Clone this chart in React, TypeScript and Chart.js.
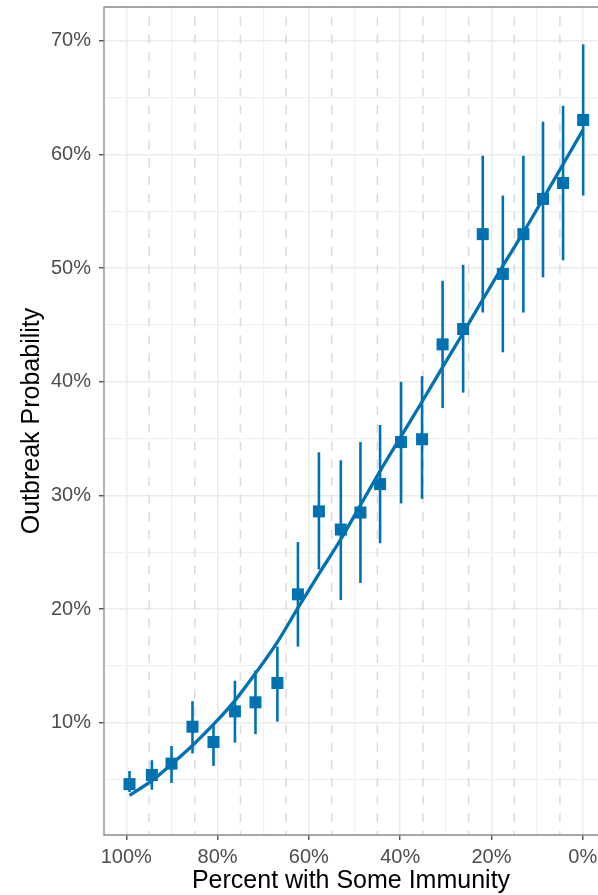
import React, { useEffect, useRef } from 'react';
import { Chart, registerables } from 'chart.js';

Chart.register(...registerables);

// Percent of the population with some immunity (x) for each simulated scenario
const immunityPct = [99.3, 94.4, 90.1, 85.5, 80.9, 76.2, 71.7, 66.9, 62.4, 57.8, 53.0, 48.7, 44.4, 39.8, 35.2, 30.7, 26.2, 21.9, 17.5, 13.0, 8.7, 4.3, -0.1];
// Simulated outbreak probability (%)
const outbreakProb = [4.6, 5.4, 6.4, 9.65, 8.3, 11.0, 11.8, 13.5, 21.3, 28.6, 27.0, 28.5, 31.0, 34.7, 34.95, 43.3, 44.65, 53.0, 49.5, 53.0, 56.1, 57.5, 63.05];
// Interval bounds (%)
const lowerCI = [3.9, 4.1, 4.7, 7.3, 6.2, 8.25, 9.0, 10.1, 16.7, 23.5, 20.8, 22.3, 25.8, 29.3, 29.7, 37.7, 39.05, 46.1, 42.6, 46.1, 49.2, 50.7, 56.4];
const upperCI = [5.75, 6.7, 7.95, 11.9, 9.8, 13.7, 14.6, 16.7, 25.9, 33.8, 33.1, 34.7, 36.2, 40.0, 40.5, 48.9, 50.3, 59.9, 56.4, 59.9, 62.9, 64.3, 69.7];
// Fitted curve (%)
const fittedProb = [3.6, 4.9, 6.35, 8.0, 9.85, 11.95, 14.35, 17.1, 20.1, 23.1, 26.15, 29.15, 32.15, 35.2, 38.25, 41.3, 44.3, 47.25, 50.2, 53.15, 56.1, 59.15, 62.2];

// Axis ticks
const xGridTicks = [0, 10, 20, 30, 40, 50, 60, 70, 80, 90, 100];
const xLabelTicks = [0, 20, 40, 60, 80, 100];
const xDashedLines = [5, 15, 25, 35, 45, 55, 65, 75, 85, 95];
const yGridTicks = [5, 10, 15, 20, 25, 30, 35, 40, 45, 50, 55, 60, 65, 70];
const yLabelTicks = [10, 20, 30, 40, 50, 60, 70];

const BLUE = '#0072B2';
const FONT = "'Liberation Sans', Arial, Helvetica, sans-serif";

export default function App() {
  const ref = useRef<HTMLCanvasElement>(null);

  useEffect(() => {
    const canvas = ref.current;
    if (!canvas) return;

    const decorPlugin = {
      id: 'decor',
      beforeDatasetsDraw(chart: any) {
        const { ctx, chartArea } = chart;
        const xs = chart.scales.x;
        const ys = chart.scales.y;
        ctx.save();
        // dashed vertical reference lines
        ctx.strokeStyle = '#dcdcdc';
        ctx.lineWidth = 1.5;
        ctx.setLineDash([9, 8.7]);
        ctx.lineDashOffset = 8;
        for (const v of xDashedLines) {
          const px = xs.getPixelForValue(v);
          ctx.beginPath();
          ctx.moveTo(px, chartArea.top);
          ctx.lineTo(px, chartArea.bottom);
          ctx.stroke();
        }
        ctx.setLineDash([]);
        // error bars
        ctx.strokeStyle = BLUE;
        ctx.lineWidth = 2.6;
        ctx.lineCap = 'butt';
        for (let i = 0; i < immunityPct.length; i++) {
          const px = xs.getPixelForValue(immunityPct[i]);
          const y1 = ys.getPixelForValue(lowerCI[i]);
          const y2 = ys.getPixelForValue(upperCI[i]);
          ctx.beginPath();
          ctx.moveTo(px, y1);
          ctx.lineTo(px, y2);
          ctx.stroke();
        }
        ctx.restore();
      },
      afterDatasetsDraw(chart: any) {
        const { ctx, chartArea } = chart;
        const { left, top, bottom } = chartArea;
        const right = chart.width + 2;
        ctx.save();
        ctx.strokeStyle = '#8a8a8a';
        ctx.lineWidth = 1.3;
        ctx.beginPath();
        ctx.moveTo(right, top);
        ctx.lineTo(left, top);
        ctx.lineTo(left, bottom);
        ctx.lineTo(right, bottom);
        ctx.stroke();
        ctx.restore();
      },
    };

    const noPad = (s: any) => {
      s.paddingTop = 0;
      s.paddingBottom = 0;
      s.paddingLeft = 0;
      s.paddingRight = 0;
    };

    const chart = new Chart(canvas, {
      type: 'scatter',
      data: {
        datasets: [
          {
            label: 'Simulated',
            data: immunityPct.map((x, i) => ({ x, y: outbreakProb[i] })),
            pointStyle: 'rect',
            pointRadius: 8.5,
            pointHoverRadius: 8.5,
            backgroundColor: BLUE,
            borderColor: BLUE,
            borderWidth: 0,
            showLine: false,
          },
          {
            label: 'Fitted',
            data: immunityPct.map((x, i) => ({ x, y: fittedProb[i] })),
            showLine: true,
            pointRadius: 0,
            borderColor: BLUE,
            backgroundColor: BLUE,
            borderWidth: 3.3,
            cubicInterpolationMode: 'monotone',
            fill: false,
          },
        ],
      },
      options: {
        animation: false,
        responsive: false,
        devicePixelRatio: 1,
        events: [],
        layout: { autoPadding: false, padding: { top: 7, right: 0, left: 0, bottom: 0 } },
        plugins: { legend: { display: false }, tooltip: { enabled: false } },
        scales: {
          x: {
            type: 'linear',
            reverse: true,
            min: -3.35,
            max: 104.89,
            afterBuildTicks: (s: any) => {
              s.ticks = xGridTicks.map((v) => ({ value: v }));
            },
            afterFit: (s: any) => {
              s.height = 60;
              noPad(s);
            },
            border: { display: false },
            grid: {
              color: (c: any) => (c.tick && c.tick.value % 20 === 0 ? '#ebebeb' : '#f1f1f1'),
              lineWidth: (c: any) => (c.tick && c.tick.value % 20 === 0 ? 1.5 : 1.2),
              tickColor: (c: any) => (c.tick && xLabelTicks.includes(c.tick.value) ? '#444' : 'rgba(0,0,0,0)'),
              tickLength: 5,
              tickWidth: 1.3,
              drawTicks: true,
            },
            ticks: {
              autoSkip: false,
              maxRotation: 0,
              padding: 5,
              color: '#4d4d4d',
              font: { family: FONT, size: 20 },
              callback: (v: any) => (xLabelTicks.includes(Number(v)) ? `${v}%` : ''),
            },
            title: {
              display: true,
              text: 'Percent with Some Immunity',
              color: '#000',
              font: { family: FONT, size: 25, lineHeight: 1.1 },
              padding: { top: 0, bottom: 0 },
            },
          },
          y: {
            type: 'linear',
            min: 0.12,
            max: 72.99,
            afterBuildTicks: (s: any) => {
              s.ticks = yGridTicks.map((v) => ({ value: v }));
            },
            afterFit: (s: any) => {
              s.width = 104;
              noPad(s);
            },
            border: { display: false },
            grid: {
              color: (c: any) => (c.tick && c.tick.value % 10 === 0 ? '#ebebeb' : '#f1f1f1'),
              lineWidth: (c: any) => (c.tick && c.tick.value % 10 === 0 ? 1.5 : 1.2),
              tickColor: (c: any) => (c.tick && yLabelTicks.includes(c.tick.value) ? '#444' : 'rgba(0,0,0,0)'),
              tickLength: 5,
              tickWidth: 1.3,
              drawTicks: true,
            },
            ticks: {
              autoSkip: false,
              padding: 8,
              color: '#4d4d4d',
              font: { family: FONT, size: 20 },
              callback: (v: any) => (yLabelTicks.includes(Number(v)) ? `${v}%` : ''),
            },
            title: {
              display: true,
              text: 'Outbreak Probability',
              color: '#000',
              font: { family: FONT, size: 25, lineHeight: 1.2 },
              padding: { top: 17, bottom: 0 },
            },
          },
        },
      },
      plugins: [decorPlugin],
    } as any);

    return () => {
      chart.destroy();
    };
  }, []);

  return (
    <div style={{ position: 'fixed', left: 0, top: 0, width: 598, height: 895, overflow: 'hidden', background: '#fff' }}>
      <canvas ref={ref} width={598} height={895} style={{ width: 598, height: 895, display: 'block' }} />
    </div>
  );
}
